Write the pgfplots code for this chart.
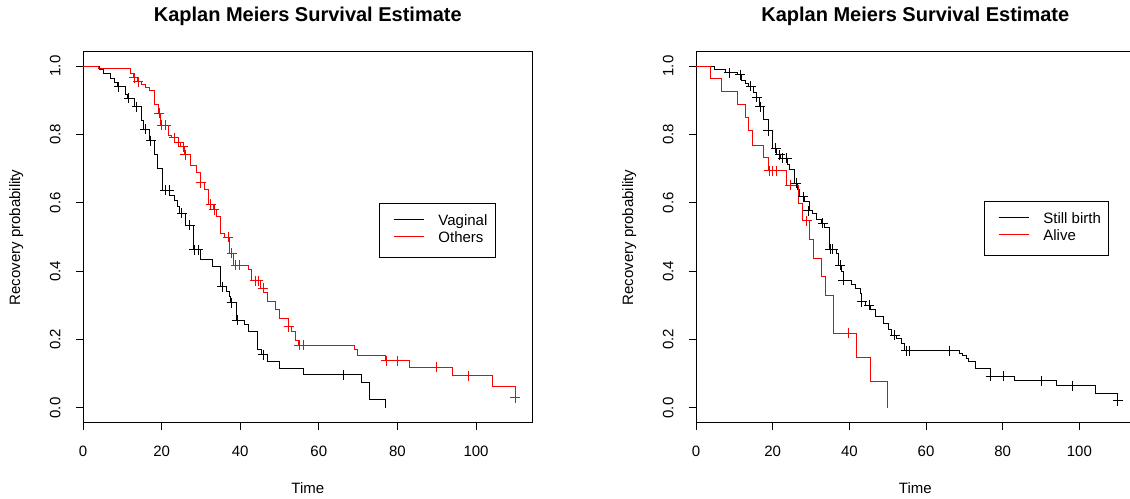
\documentclass[border=0pt]{standalone}
\usepackage{fontspec}
\setmainfont{Liberation Sans}
\usepackage{pgfplots}
\pgfplotsset{compat=1.18}

% R plot.survfit look: box, outside ticks, x starts at 0, right side +4%
\pgfplotsset{
  km/.style={
    scale only axis,
    height=278.25pt,
    xmin=0, xmax=114.4,
    ymin=-0.044, ymax=1.041,
    axis line style={black, line width=0.75pt},
    tick style={black, line width=0.75pt},
    tick align=outside,
    major tick length=5.25pt,
    tick pos=left,
    xtick={0,20,40,60,80,100},
    xticklabels={0,20,40,60,80,100},
    ytick={0,0.2,0.4,0.6,0.8,1},
    yticklabels={0.0,0.2,0.4,0.6,0.8,1.0},
    tick label style={font=\fontsize{11.25}{13}\selectfont, inner sep=0pt},
    xticklabel style={anchor=north},
    yticklabel style={rotate=90, anchor=south},
    xticklabel shift=11.75pt,
    yticklabel shift=11.5pt,
    label style={font=\fontsize{11.25}{13}\selectfont},
    every axis title shift=0pt,
    title style={font=\fontsize{15}{18}\selectfont\bfseries,
      at={(axis description cs:0.5,1.0823)}, anchor=base},
    title={Kaplan Meiers Survival Estimate},
    xlabel={Time},
    ylabel={Recovery probability},
    xlabel style={at={(axis description cs:0.5,-0.1887)}, anchor=base},
    legend cell align=left,
    legend style={anchor=north west, draw=black, line width=0.75pt,
      inner xsep=6pt, inner ysep=7.2pt,
      font=\fontsize{11.25}{13}\selectfont,
      nodes={inner sep=0pt, text height=9pt, text depth=4pt},
      row sep=0pt, column sep=0pt, cells={anchor=west}},
    legend image code/.code={
      \path (-4.3pt,0pt) (33.2pt,0pt);
      \draw[#1,line width=0.75pt] (0pt,2pt) -- (22.5pt,2pt);
    },
  },
  curve/.style={const plot, line width=0.75pt, mark=none},
  cens/.style={only marks, mark=+, mark size=3.75pt,
    mark options={line width=0.75pt}, forget plot},
}

\begin{document}
\begin{tikzpicture}
\useasboundingbox (0,0) rectangle (847.5pt,374.25pt);

% ---------- left: delivery mode ----------
\begin{axis}[km,
  at={(62.25pt,57pt)}, anchor=south west,
  width=337.2pt,
  ylabel style={at={(axis description cs:-0.1397,0.5)}, anchor=base},
  legend style={at={(axis cs:75.3,0.599)}},
]
\addplot[curve, black] coordinates {
(0,1.0) (4.2,0.99) (5.2,0.977) (6.9,0.964) (8.0,0.952) (8.8,0.940)
(10.8,0.918) (11.4,0.905) (13.2,0.881) (14.9,0.842) (15.5,0.815)
(16.8,0.782) (18.2,0.740) (19.0,0.701) (20.2,0.637) (22.1,0.621)
(23.2,0.606) (24.0,0.589) (24.6,0.569) (26.0,0.535) (28.1,0.462)
(29.9,0.433) (33.0,0.413) (35.1,0.355) (36.6,0.340) (37.2,0.326)
(37.6,0.308) (39.1,0.257) (41.2,0.243) (42.2,0.223) (44.4,0.170)
(45.3,0.155) (46.9,0.137) (50.1,0.116) (56.0,0.097) (70.8,0.075)
(72.9,0.025) (77.0,0.0)
};
\addlegendentry{Vaginal}
\addplot[curve, red] coordinates {
(0,1.0) (3.9,0.993) (12.0,0.979) (12.9,0.966) (13.8,0.954) (15.0,0.945)
(16.0,0.938) (17.0,0.928) (18.1,0.886) (19.2,0.862) (19.8,0.827)
(21.7,0.798) (22.6,0.790) (23.4,0.777) (24.7,0.764) (25.8,0.740)
(27.3,0.710) (29.0,0.688) (29.8,0.659) (31.0,0.639) (32.0,0.595)
(33.2,0.579) (34.0,0.560) (35.1,0.511) (36.1,0.499) (37.4,0.452)
(38.2,0.418) (42.1,0.405) (43.0,0.372) (45.1,0.350) (46.0,0.337)
(47.0,0.312) (49.1,0.287) (50.1,0.262) (52.2,0.237) (53.1,0.223)
(54.0,0.198) (54.8,0.183) (69.0,0.170) (69.9,0.153) (77.0,0.138)
(83.0,0.119) (94.0,0.094) (104.1,0.062) (110.0,0.030)
};
\addlegendentry{Others}
\addplot[cens, black] coordinates {
(9.1,0.940) (11.7,0.905) (13.7,0.881) (15.9,0.815) (17.3,0.782)
(20.9,0.637) (21.9,0.637) (25.1,0.569) (27.2,0.535) (28.3,0.462)
(29.3,0.462) (35.4,0.355) (37.8,0.308) (39.3,0.257) (45.9,0.155)
(66.2,0.097)
};
\addplot[cens, red] coordinates {
(13.0,0.966) (14.1,0.954) (19.4,0.862) (20.1,0.827) (21.1,0.827)
(23.2,0.790) (24.3,0.777) (25.5,0.764) (26.0,0.740) (29.9,0.659)
(32.5,0.595) (33.4,0.579) (36.9,0.499) (37.8,0.452) (38.9,0.418)
(39.8,0.418) (43.8,0.372) (44.6,0.372) (45.9,0.350) (52.3,0.237)
(55.0,0.183) (56.1,0.183) (77.2,0.138) (80.0,0.138) (90.0,0.119)
(98.1,0.094) (110.0,0.030)
};
\end{axis}

% ---------- right: birth outcome ----------
\begin{axis}[km,
  at={(522pt,57pt)}, anchor=south west,
  width=328.9pt,
  ylabel style={at={(axis description cs:-0.1432,0.5)}, anchor=base},
  legend style={at={(axis cs:75.1,0.605)}},
]
\addplot[curve, black] coordinates {
(0,1.0) (4.7,0.989) (7.6,0.980) (10.9,0.974) (11.9,0.957) (12.8,0.949)
(13.8,0.941) (15.0,0.922) (15.7,0.908) (16.5,0.881) (17.7,0.844)
(18.9,0.811) (19.9,0.759) (21.0,0.740) (22.0,0.730) (23.8,0.711)
(24.5,0.698) (25.8,0.657) (26.4,0.639) (27.1,0.618) (28.4,0.603)
(29.6,0.576) (30.4,0.569) (31.5,0.552) (32.8,0.540) (33.5,0.528)
(34.8,0.464) (36.7,0.452) (37.3,0.418) (38.0,0.399) (38.4,0.374)
(40.6,0.362) (41.5,0.350) (42.8,0.335) (43.1,0.311) (44.2,0.301)
(45.4,0.289) (46.9,0.267) (48.9,0.248) (50.2,0.228) (51.0,0.213)
(52.3,0.204) (53.7,0.189) (54.5,0.168) (68.7,0.160) (69.6,0.152)
(70.6,0.145) (71.0,0.137) (73.0,0.116) (76.9,0.093) (83.2,0.080)
(94.0,0.065) (104.1,0.043) (110.0,0.021)
};
\addlegendentry{Still birth}
\addplot[curve, red] coordinates {
(0,1.0) (3.8,0.964) (6.7,0.925) (10.9,0.886) (12.8,0.849) (13.7,0.810)
(14.7,0.769) (17.7,0.732) (18.9,0.694) (23.7,0.652) (26.7,0.598)
(27.7,0.548) (29.7,0.493) (30.6,0.438) (32.8,0.384) (33.8,0.328)
(35.8,0.218) (41.9,0.148) (45.6,0.077) (49.9,0.0)
};
\addlegendentry{Alive}
\addplot[cens, black] coordinates {
(8.7,0.980) (11.5,0.974) (14.3,0.941) (15.8,0.908) (16.7,0.881)
(18.9,0.811) (20.8,0.759) (21.9,0.740) (22.6,0.730) (23.7,0.730)
(26.1,0.657) (28.0,0.618) (29.3,0.576) (33.0,0.540) (35.0,0.464)
(35.7,0.464) (37.6,0.418) (38.4,0.374) (43.2,0.311) (45.2,0.301)
(51.9,0.213) (54.8,0.168) (55.8,0.168) (66.1,0.168) (76.9,0.093)
(80.1,0.093) (90.2,0.080) (98.2,0.065) (110.0,0.021)
};
\addplot[cens, red] coordinates {
(19.1,0.694) (20.0,0.694) (20.9,0.694) (24.6,0.652) (28.9,0.548)
(39.7,0.218)
};
\end{axis}
\end{tikzpicture}
\end{document}
